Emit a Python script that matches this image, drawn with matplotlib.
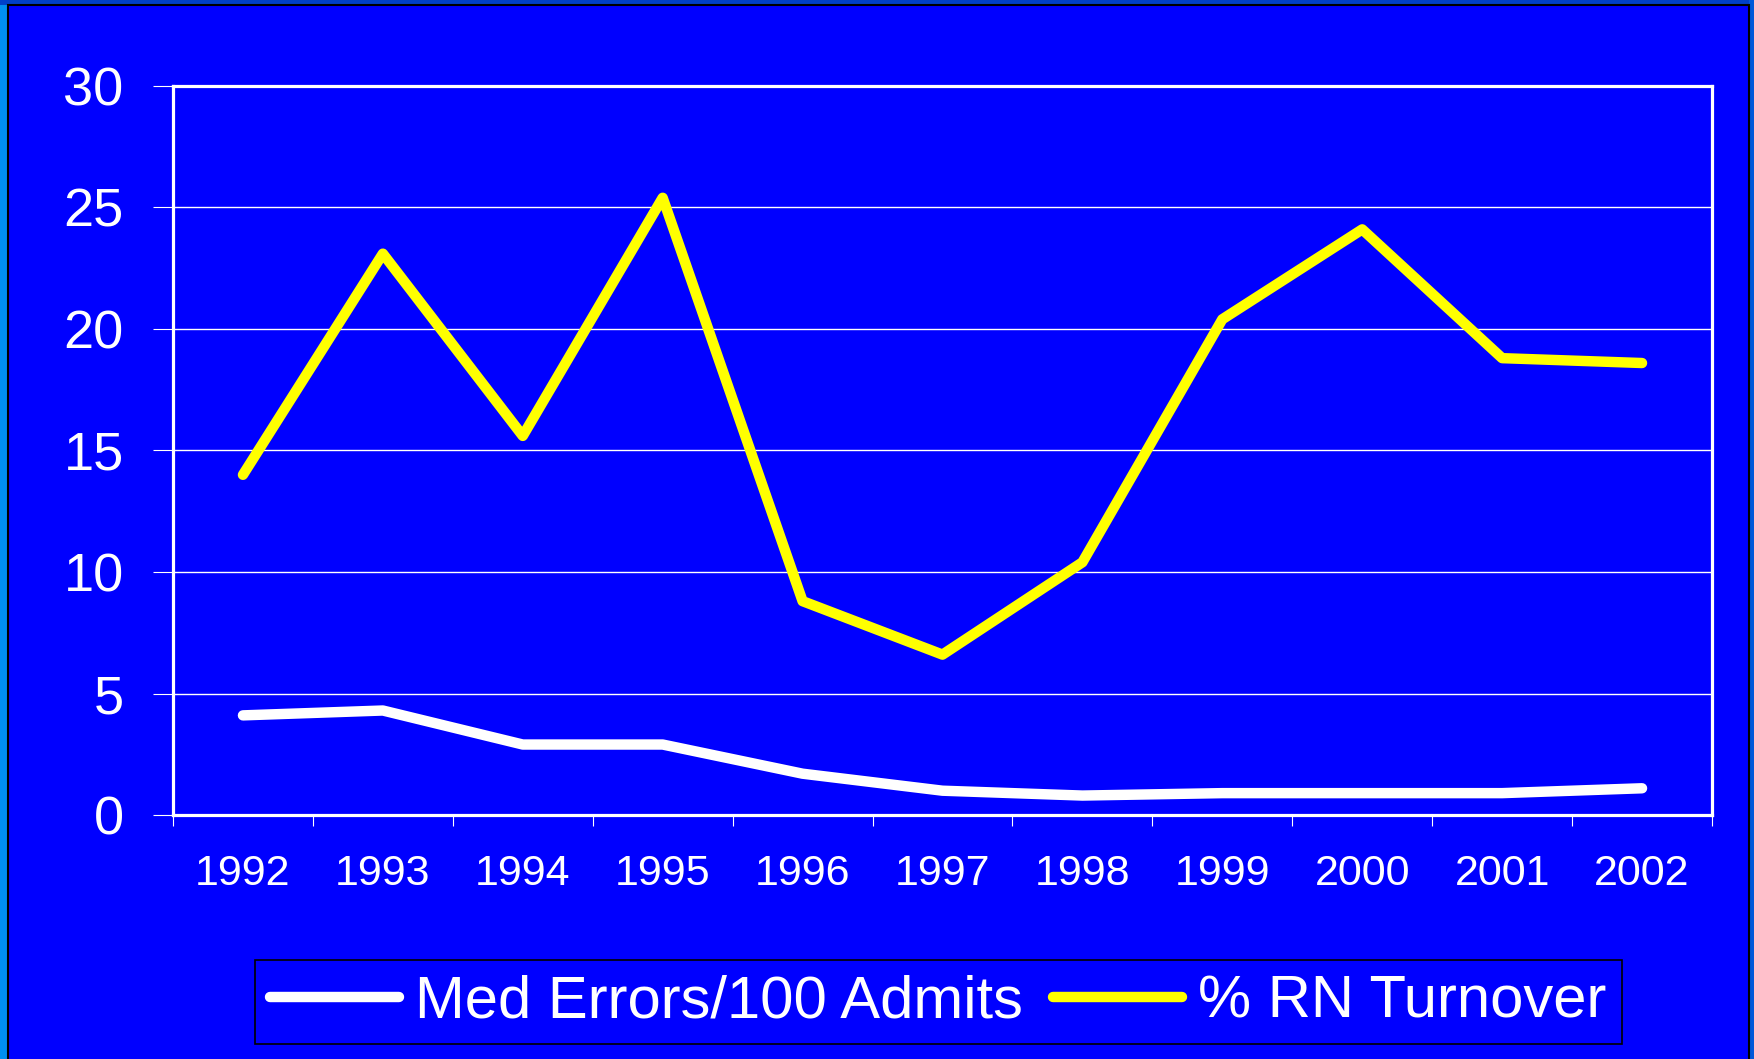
import matplotlib.pyplot as plt
from matplotlib.patches import Rectangle

# data
years = ['1992', '1993', '1994', '1995', '1996', '1997', '1998', '1999', '2000', '2001', '2002']
med_errors = [4.1, 4.3, 2.9, 2.9, 1.7, 1.0, 0.8, 0.9, 0.9, 0.9, 1.1]
rn_turnover = [14.0, 23.1, 15.6, 25.4, 8.8, 6.6, 10.4, 20.4, 24.1, 18.8, 18.6]
y_ticks = [0, 5, 10, 15, 20, 25, 30]

plt.rcParams['font.family'] = ['Liberation Sans', 'DejaVu Sans']

W, H = 1754, 1059
fig = plt.figure(figsize=(W / 100, H / 100), dpi=100)
fig.patch.set_facecolor('#0070e0')

# slide frame: light strip at left, darker strip on top, blue panel with black edge
fig.add_artist(Rectangle((0, 0), 8 / W, 1, transform=fig.transFigure,
                         facecolor='#0090f0', edgecolor='none', zorder=0))
fig.add_artist(Rectangle((0, 1 - 5 / H), 1, 5 / H, transform=fig.transFigure,
                         facecolor='#0040c8', edgecolor='none', zorder=0))
fig.add_artist(Rectangle((1749 / W, 0), 5 / W, 1, transform=fig.transFigure,
                         facecolor='#0058d8', edgecolor='none', zorder=0))
fig.add_artist(Rectangle((8 / W, -0.01), 1741 / W, 1 - 5 / H + 0.01, transform=fig.transFigure,
                         facecolor='#0000ff', edgecolor='black', linewidth=1.5, zorder=0))

ax = fig.add_axes([173 / W, 1 - 815 / H, 1539 / W, 729 / H])
ax.set_facecolor('#0000ff')

x = list(range(len(years)))
ax.plot(x, med_errors, color='white', linewidth=7.5, solid_capstyle='round',
        label='Med Errors/100 Admits', zorder=3)
ax.plot(x, rn_turnover, color='#ffff00', linewidth=7.5, solid_capstyle='round',
        label='% RN Turnover', zorder=3)

ax.set_xlim(-0.5, len(years) - 0.5)
ax.set_ylim(0, 30)

ax.set_yticks(y_ticks)
ax.set_yticklabels([str(v) for v in y_ticks])
ax.yaxis.grid(True, color='white', linewidth=1)
ax.set_axisbelow(True)

ax.set_xticks(x)
ax.set_xticklabels(years)
ax.set_xticks([i - 0.5 for i in range(len(years) + 1)], minor=True)

ax.tick_params(axis='y', colors='white', labelsize=39, length=14.5, width=0.8, pad=21)
ax.tick_params(axis='x', which='major', colors='white', labelsize=31, length=0, pad=28)
ax.tick_params(axis='x', which='minor', colors='white', length=8, width=0.8)

for s in ax.spines.values():
    s.set_color('white')
    s.set_linewidth(2.3)

leg = fig.legend(loc='center', bbox_to_anchor=(938.5 / W, 1 - 1002 / H), ncol=2,
                 fontsize=43, frameon=True, fancybox=False, framealpha=1,
                 handlelength=2.15, handletextpad=0.28, columnspacing=0.5,
                 borderpad=0.25, labelcolor='white')
leg.get_frame().set_facecolor('#0000ff')
leg.get_frame().set_edgecolor('black')
leg.get_frame().set_linewidth(1.2)

fig.savefig('out.png', dpi=100, facecolor=fig.get_facecolor())
